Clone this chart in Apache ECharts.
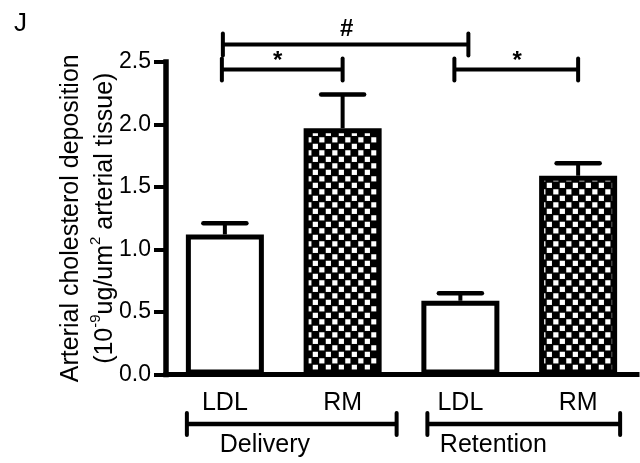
<!DOCTYPE html>
<html>
<head>
<meta charset="utf-8">
<script src="https://cdn.jsdelivr.net/npm/echarts@6/dist/echarts.min.js"></script>
<style>
  html, body { margin: 0; padding: 0; background: #ffffff; }
  #chart { width: 640px; height: 463px; }
</style>
</head>
<body>
<div id="chart"></div>
<script>
// ---- data ----
const categories = ['LDL', 'RM', 'LDL', 'RM'];
const meanValues = [1.12, 1.97, 0.59, 1.59];
const semValues = [0.09, 0.27, 0.06, 0.10];
const yTickLabels = ['0.0', '0.5', '1.0', '1.5', '2.0', '2.5'];
const groupNames = ['Delivery', 'Retention'];
const groupSpans = [[0, 1], [2, 3]];
const sigPairs = [[0, 1], [0, 2], [2, 3]];
const sigLevels = [2.44, 2.64, 2.44];
const sigMarks = ['*', '#', '*'];

// ---- styling / layout ----
const FONT = '"Liberation Sans", Arial, sans-serif';
const INK = '#000000';
// per-group offsets (px) of the bracket ends and the caption, relative to category centres
const groupLayout = [
  { left: -38, right: 54, text: 40 },
  { left: -33, right: 42, text: 33 }
];
// small horizontal nudges (px) so neighbouring significance brackets do not meet
const sigLayout = [
  { left: -3, right: 0, text: -6 },
  { left: -2, right: 8, text: 4 },
  { left: -6, right: 0, text: -2 }
];

// checkerboard fill for the RM bars
function checkerPattern() {
  const c = document.createElement('canvas');
  c.width = 13; c.height = 13;
  const g = c.getContext('2d');
  g.fillStyle = '#000';
  g.fillRect(0, 0, 13, 13);
  g.fillStyle = '#fff';
  g.fillRect(0.75, 0.75, 5.2, 5.2);
  g.fillRect(7.25, 7.25, 5.2, 5.2);
  return c;
}
const checker = { image: checkerPattern(), repeat: 'repeat' };

const barData = meanValues.map((v, i) => ({
  value: v,
  itemStyle: { color: categories[i] === 'RM' ? checker : '#ffffff' }
}));

const errData = meanValues.map((v, i) => [i, v, semValues[i]]);
const sigData = sigPairs.map((p, i) => [p[0], p[1], sigLevels[i], i]);
const groupData = groupSpans.map((s, i) => [s[0], s[1], i]);

const chart = echarts.init(document.getElementById('chart'), null, { renderer: 'canvas' });

chart.setOption({
  animation: false,
  backgroundColor: '#ffffff',
  grid: { left: 166, right: 3, top: 62, bottom: 88.5, containLabel: false },
  graphic: [{
    type: 'text', left: 14, top: 11,
    style: { text: 'J', font: '26px ' + FONT, fill: INK }
  }],
  xAxis: {
    type: 'category',
    data: categories,
    axisLine: { show: true, lineStyle: { color: INK, width: 5, cap: 'square' } },
    axisTick: { show: false },
    axisLabel: { color: INK, fontFamily: FONT, fontSize: 25, margin: 16 },
    splitLine: { show: false }
  },
  yAxis: {
    type: 'value',
    min: 0, max: 2.5, interval: 0.5,
    name: 'Arterial cholesterol deposition\n(10{sup|-9}ug/um{sup|2} arterial tissue)',
    nameLocation: 'middle',
    nameRotate: 90,
    nameGap: 44,
    nameMoveOverlap: false,
    nameTextStyle: {
      color: INK, fontFamily: FONT, fontSize: 25, lineHeight: 34,
      rich: {
        sup: { color: INK, fontFamily: FONT, fontSize: 15, lineHeight: 15, verticalAlign: 'top' }
      }
    },
    axisLine: { show: true, lineStyle: { color: INK, width: 5.5, cap: 'square' } },
    axisTick: { show: true, length: 12, lineStyle: { color: INK, width: 4 } },
    axisLabel: {
      color: INK, fontFamily: FONT, fontSize: 23, margin: 15,
      formatter: (v) => yTickLabels[Math.round(v / 0.5)]
    },
    splitLine: { show: false }
  },
  series: [
    {
      type: 'bar',
      data: barData,
      barWidth: 78,
      itemStyle: { borderColor: INK, borderWidth: 5 },
      z: 2
    },
    {
      // upper SEM whiskers
      type: 'custom',
      data: errData,
      z: 3,
      renderItem: function (params, api) {
        const i = api.value(0), m = api.value(1), e = api.value(2);
        const base = api.coord([i, m]);
        const tip = api.coord([i, m + e]);
        return {
          type: 'group',
          children: [
            { type: 'line', shape: { x1: base[0], y1: base[1], x2: tip[0], y2: tip[1] },
              style: { stroke: INK, lineWidth: 4 } },
            { type: 'line', shape: { x1: tip[0] - 21.5, y1: tip[1], x2: tip[0] + 21.5, y2: tip[1] },
              style: { stroke: INK, lineWidth: 4.5, lineCap: 'round' } }
          ]
        };
      }
    },
    {
      // significance brackets
      type: 'custom',
      data: sigData,
      z: 3,
      renderItem: function (params, api) {
        const k = api.value(3);
        const n = sigLayout[k];
        const a = api.coord([api.value(0), api.value(2)]);
        const b = api.coord([api.value(1), api.value(2)]);
        const xa = a[0] + n.left, xb = b[0] + n.right;
        const mark = sigMarks[k];
        const h = 11;
        const lift = mark === '*' ? 8 : 15;
        return {
          type: 'group',
          children: [
            { type: 'line', shape: { x1: xa, y1: a[1], x2: xb, y2: b[1] }, style: { stroke: INK, lineWidth: 4 } },
            { type: 'line', shape: { x1: xa, y1: a[1] - h, x2: xa, y2: a[1] + h }, style: { stroke: INK, lineWidth: 4, lineCap: 'round' } },
            { type: 'line', shape: { x1: xb, y1: b[1] - h, x2: xb, y2: b[1] + h }, style: { stroke: INK, lineWidth: 4, lineCap: 'round' } },
            { type: 'text', x: (a[0] + b[0]) / 2 + n.text, y: a[1] - lift,
              style: { text: mark, font: 'bold 24px ' + FONT, fill: INK, align: 'center', verticalAlign: 'middle' } }
          ]
        };
      }
    },
    {
      // group brackets under the category labels
      type: 'custom',
      data: groupData,
      z: 3,
      renderItem: function (params, api) {
        const g = groupLayout[api.value(2)];
        const s = api.coord([api.value(0), 0]);
        const e = api.coord([api.value(1), 0]);
        const y = s[1] + 49.5;
        const x1 = s[0] + g.left, x2 = e[0] + g.right;
        const h = 11;
        return {
          type: 'group',
          children: [
            { type: 'line', shape: { x1: x1, y1: y, x2: x2, y2: y }, style: { stroke: INK, lineWidth: 4.5 } },
            { type: 'line', shape: { x1: x1, y1: y - h, x2: x1, y2: y + h }, style: { stroke: INK, lineWidth: 4, lineCap: 'round' } },
            { type: 'line', shape: { x1: x2, y1: y - h, x2: x2, y2: y + h }, style: { stroke: INK, lineWidth: 4, lineCap: 'round' } },
            { type: 'text', x: s[0] + g.text, y: y + 21,
              style: { text: groupNames[api.value(2)], font: '25px ' + FONT, fill: INK, align: 'center', verticalAlign: 'middle' } }
          ]
        };
      }
    }
  ]
});
</script>
</body>
</html>
